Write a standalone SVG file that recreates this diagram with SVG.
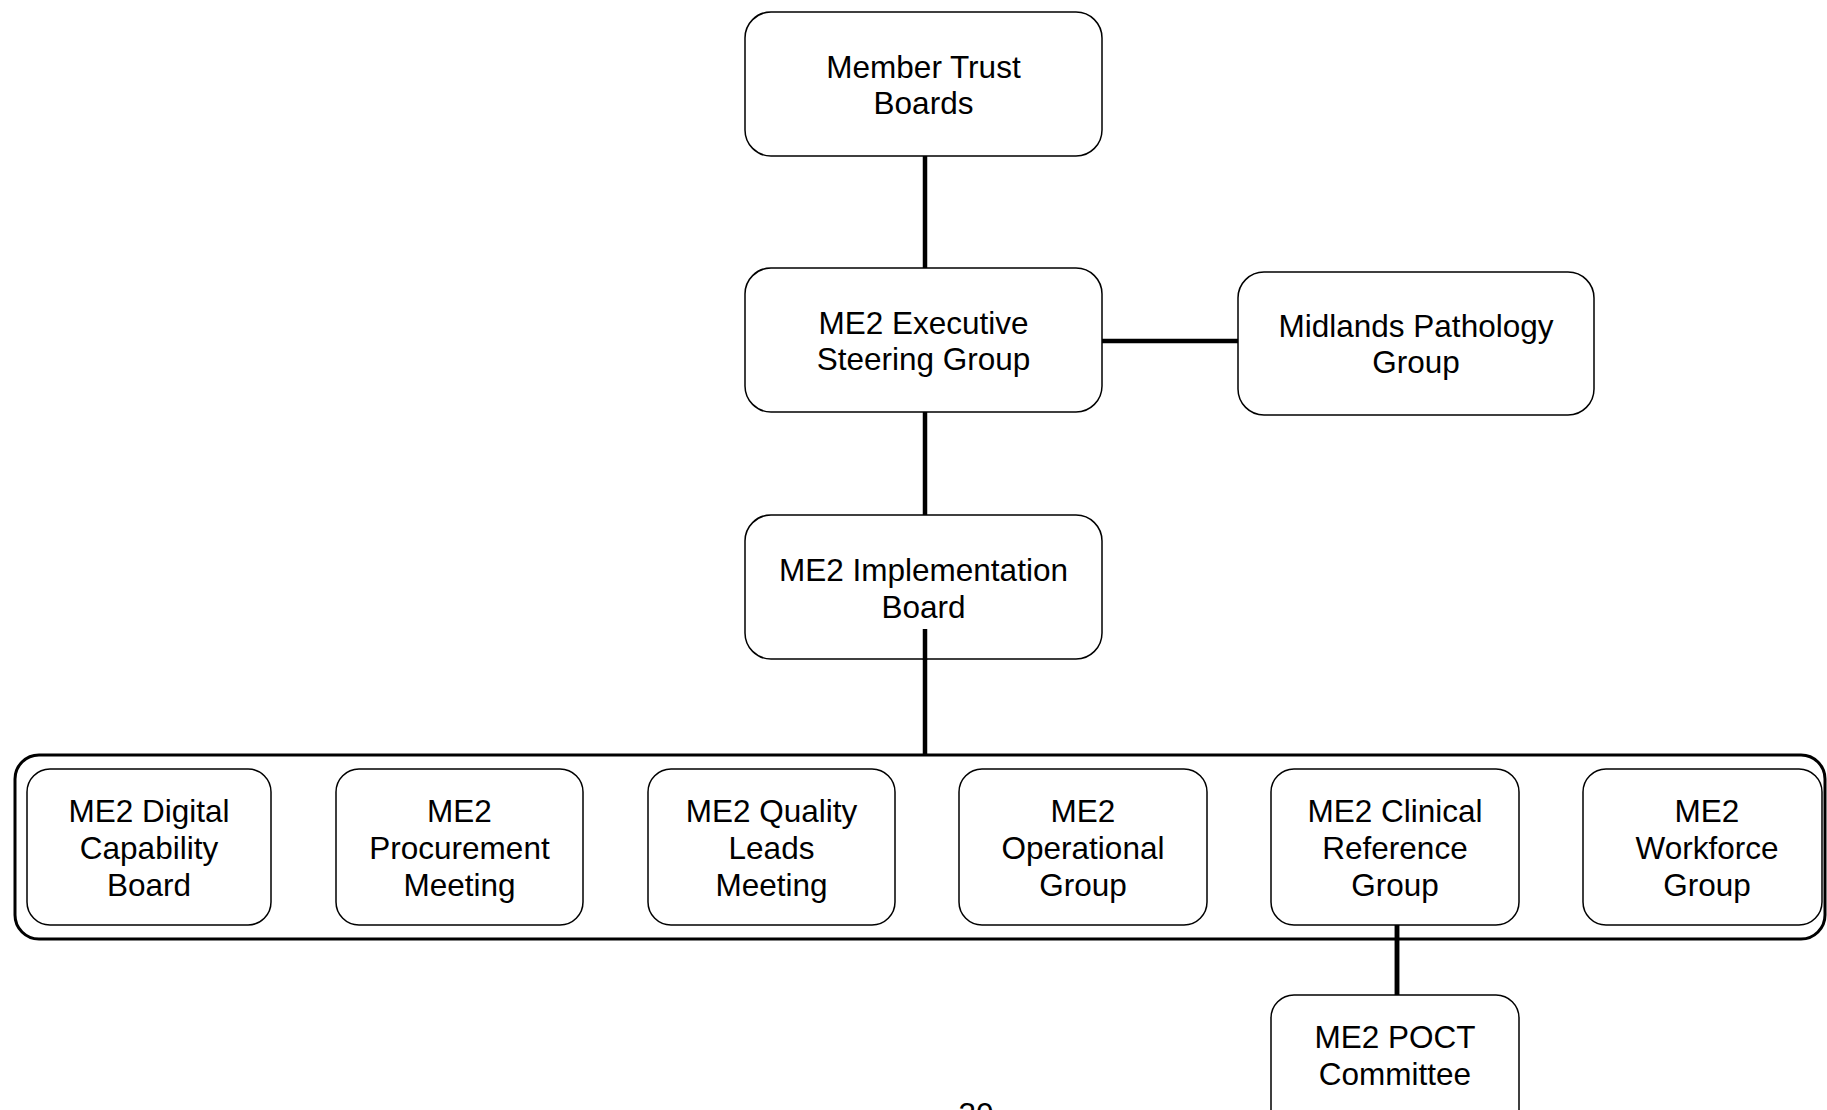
<svg xmlns="http://www.w3.org/2000/svg" width="1827" height="1110" viewBox="0 0 1827 1110">
<style>
.node rect{fill:#fff;stroke:#000;stroke-width:1.5}
.node text,.pg{font-family:"Liberation Sans",Arial,sans-serif;font-size:31.5px;fill:#000;text-anchor:middle}
.conn line{stroke:#000;stroke-width:4.5}
.container{fill:none;stroke:#000;stroke-width:3}
</style>
<rect width="1827" height="1110" fill="#fff"/>
<rect id="container" class="container" x="15" y="755" width="1810" height="184" rx="24" ry="24"/>
<g id="connectors" class="conn">
<line x1="925" y1="156" x2="925" y2="268"/>
<line x1="1102" y1="341" x2="1238" y2="341"/>
<line x1="925" y1="412" x2="925" y2="515"/>
<line x1="925" y1="629" x2="925" y2="755"/>
<line x1="1397" y1="925" x2="1397" y2="995"/>
</g>
<g id="n-member" class="node"><rect x="745" y="12" width="357" height="144" rx="26"/><text x="923.5" y="78">Member Trust</text><text x="923.5" y="114">Boards</text></g>
<g id="n-exec" class="node"><rect x="745" y="268" width="357" height="144" rx="26"/><text x="923.5" y="334">ME2 Executive</text><text x="923.5" y="370">Steering Group</text></g>
<g id="n-midlands" class="node"><rect x="1238" y="272" width="356" height="143" rx="26"/><text x="1416" y="337">Midlands Pathology</text><text x="1416" y="373">Group</text></g>
<g id="n-impl" class="node"><rect x="745" y="515" width="357" height="144" rx="26"/><text x="923.5" y="581">ME2 Implementation</text><text x="923.5" y="618">Board</text></g>
<line x1="925" y1="629" x2="925" y2="660" stroke="#000" stroke-width="4.5"/>
<g id="n-digital" class="node"><rect x="27" y="769" width="244" height="156" rx="23"/><text x="149" y="822">ME2 Digital</text><text x="149" y="859">Capability</text><text x="149" y="896">Board</text></g>
<g id="n-procurement" class="node"><rect x="336" y="769" width="247" height="156" rx="23"/><text x="459.5" y="822">ME2</text><text x="459.5" y="859">Procurement</text><text x="459.5" y="896">Meeting</text></g>
<g id="n-quality" class="node"><rect x="648" y="769" width="247" height="156" rx="23"/><text x="771.5" y="822">ME2 Quality</text><text x="771.5" y="859">Leads</text><text x="771.5" y="896">Meeting</text></g>
<g id="n-operational" class="node"><rect x="959" y="769" width="248" height="156" rx="23"/><text x="1083" y="822">ME2</text><text x="1083" y="859">Operational</text><text x="1083" y="896">Group</text></g>
<g id="n-clinical" class="node"><rect x="1271" y="769" width="248" height="156" rx="23"/><text x="1395" y="822">ME2 Clinical</text><text x="1395" y="859">Reference</text><text x="1395" y="896">Group</text></g>
<g id="n-workforce" class="node"><rect x="1583" y="769" width="239" height="156" rx="23"/><text x="1707" y="822">ME2</text><text x="1707" y="859">Workforce</text><text x="1707" y="896">Group</text></g>
<line x1="1397" y1="925" x2="1397" y2="995" stroke="#000" stroke-width="4.5"/>
<g id="n-poct" class="node"><rect x="1271" y="995" width="248" height="156" rx="23"/><text x="1395" y="1048">ME2 POCT</text><text x="1395" y="1085">Committee</text></g>
<text class="pg" x="976" y="1125">30</text>
</svg>
